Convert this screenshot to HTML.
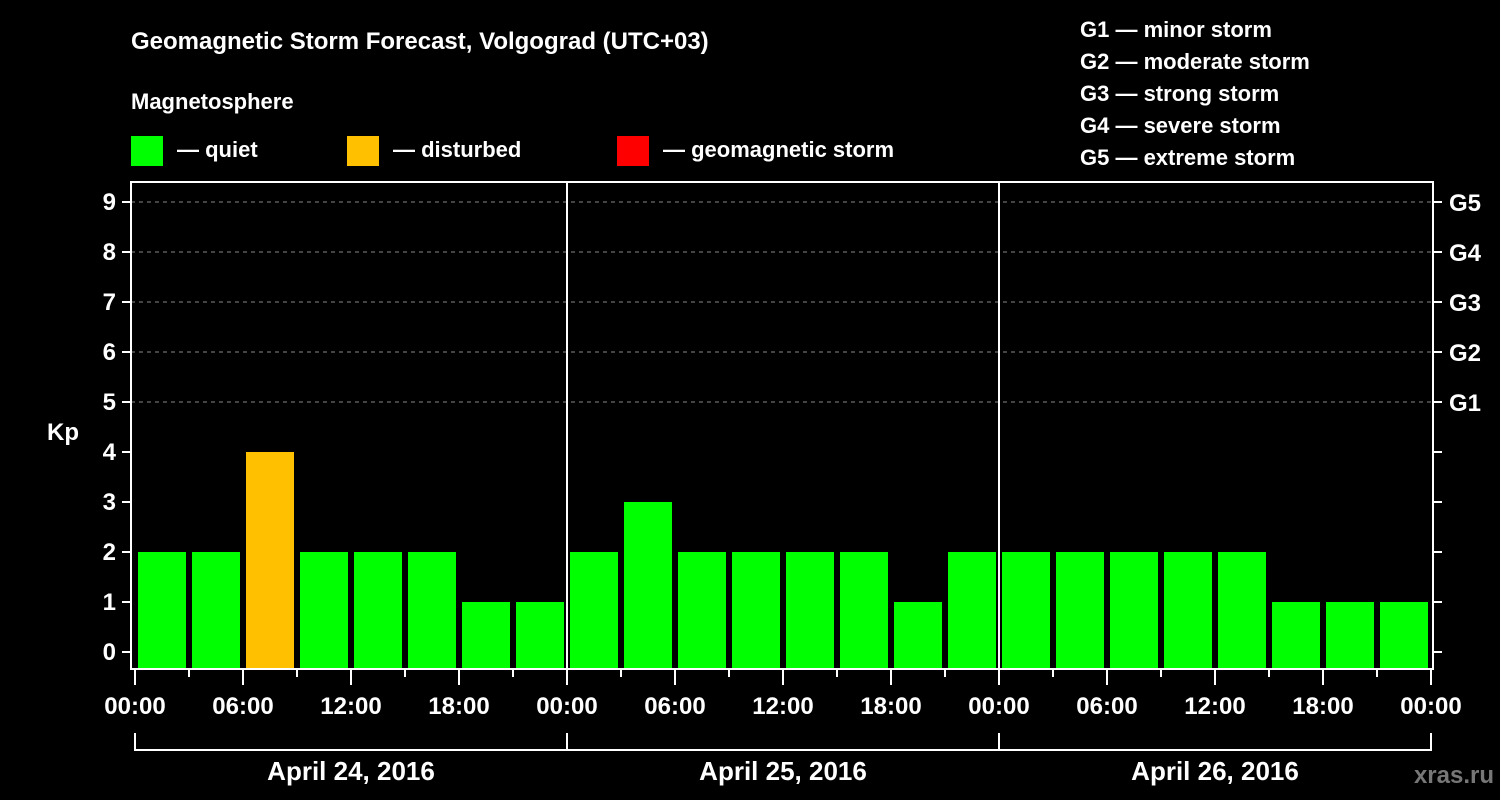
<!DOCTYPE html>
<html><head><meta charset="utf-8"><style>
body{margin:0;background:#000;}
svg{display:block;font-family:"Liberation Sans",sans-serif;font-weight:bold;}
</style></head><body>
<svg id="c" width="1500" height="800" viewBox="0 0 1500 800">
<rect width="1500" height="800" fill="#000"/>
<text x="131" y="49" fill="#fff" font-size="24">Geomagnetic Storm Forecast, Volgograd (UTC+03)</text>
<text x="131" y="109" fill="#fff" font-size="22">Magnetosphere</text>
<g><rect x="131" y="136" width="32" height="30" fill="#00ff00"/><text x="177" y="157" fill="#fff" font-size="22">— quiet</text></g>
<g><rect x="347" y="136" width="32" height="30" fill="#ffc000"/><text x="393" y="157" fill="#fff" font-size="22">— disturbed</text></g>
<g><rect x="617" y="136" width="32" height="30" fill="#ff0000"/><text x="663" y="157" fill="#fff" font-size="22">— geomagnetic storm</text></g>
<g fill="#fff" font-size="22">
<text x="1080" y="37">G1 — minor storm</text>
<text x="1080" y="69">G2 — moderate storm</text>
<text x="1080" y="101">G3 — strong storm</text>
<text x="1080" y="133">G4 — severe storm</text>
<text x="1080" y="165">G5 — extreme storm</text>
</g>
<text x="63" y="440" fill="#fff" font-size="24" text-anchor="middle">Kp</text>
<text x="1494" y="783" fill="#777" font-size="24" text-anchor="end">xras.ru</text>
<g id="grid"></g><g id="bars"></g><g id="axes"></g>
</svg>
<script>
const values = [2,2,4,2,2,2,1,1, 2,3,2,2,2,2,1,2, 2,2,2,2,2,1,1,1];
const yTicks = [0,1,2,3,4,5,6,7,8,9];
const gLabels = ["G1","G2","G3","G4","G5"];
const xTickLabels = ["00:00","06:00","12:00","18:00","00:00","06:00","12:00","18:00","00:00","06:00","12:00","18:00","00:00"];
const dayLabels = ["April 24, 2016","April 25, 2016","April 26, 2016"];
const NS="http://www.w3.org/2000/svg";
const x0=135, slot=54, L=131, R=1433, T=182, B=669;
const y=v=>652-50*v;
const xs=i=>x0+slot*i;
function mk(p,tag,a,txt){const e=document.createElementNS(NS,tag);for(const k in a)e.setAttribute(k,a[k]);if(txt!=null)e.textContent=txt;p.appendChild(e);return e;}
const grid=document.getElementById('grid'),bars=document.getElementById('bars'),axes=document.getElementById('axes');
for(let v=5;v<=9;v++){const l=mk(grid,'line',{x1:L,x2:R,y1:y(v),y2:y(v),stroke:'#888','stroke-dasharray':'4,4','stroke-width':1});

}
values.forEach((v,i)=>{const c=v>=5?'#ff0000':(v>=4?'#ffc000':'#00ff00');
const r=mk(bars,'rect',{x:xs(i)+3,y:y(v),width:48,height:668-y(v),fill:c});

});
const frame=mk(axes,'rect',{x:L,y:T,width:R-L,height:B-T,fill:'none',stroke:'#fff','stroke-width':2});


for(let d=1;d<dayLabels.length;d++){const s=mk(axes,'line',{x1:xs(d*8),x2:xs(d*8),y1:T,y2:B,stroke:'#fff','stroke-width':2});

}
yTicks.forEach(v=>{mk(axes,'line',{x1:122,x2:L,y1:y(v),y2:y(v),stroke:'#fff','stroke-width':2});
mk(axes,'line',{x1:R,x2:1442,y1:y(v),y2:y(v),stroke:'#fff','stroke-width':2});
const t=mk(axes,'text',{x:116,y:y(v)+8,fill:'#fff','font-size':24,'text-anchor':'end'},v);

});
gLabels.forEach((g,i)=>{const t=mk(axes,'text',{x:1449,y:y(5+i)+9,fill:'#fff','font-size':24},g);

});
for(let i=0;i<=values.length;i++){const major=i%2===0;mk(axes,'line',{x1:xs(i),x2:xs(i),y1:B,y2:major?685:677,stroke:'#fff','stroke-width':2});}
xTickLabels.forEach((s,i)=>{const t=mk(axes,'text',{x:xs(i*2),y:714,fill:'#fff','font-size':24,'text-anchor':'middle'},s);

});
mk(axes,'path',{d:`M${xs(0)} 733V750H${xs(24)}V733`,fill:'none',stroke:'#fff','stroke-width':2});
for(let d=1;d<dayLabels.length;d++)mk(axes,'line',{x1:xs(d*8),x2:xs(d*8),y1:733,y2:750,stroke:'#fff','stroke-width':2});
dayLabels.forEach((s,d)=>{const t=mk(axes,'text',{x:xs(d*8+4),y:780,fill:'#fff','font-size':26,'text-anchor':'middle'},s);

});
</script>
</body></html>
